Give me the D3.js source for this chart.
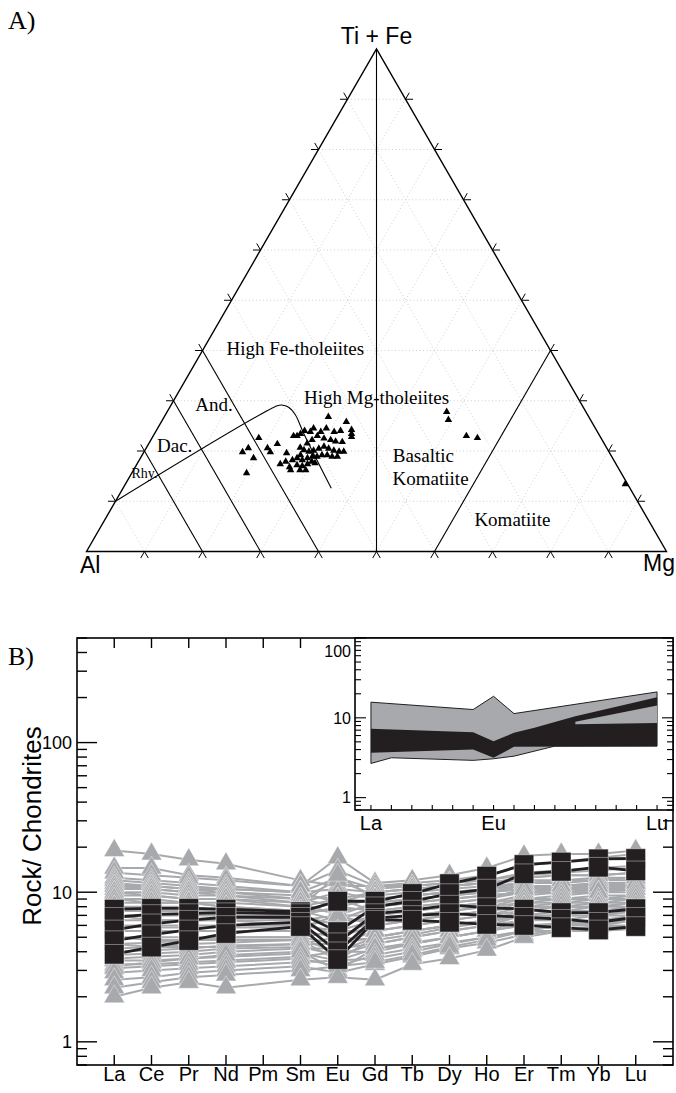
<!DOCTYPE html>
<html>
<head>
<meta charset="utf-8">
<script src="https://cdn.jsdelivr.net/npm/d3@7"></script>
<style>
  body { margin: 0; background: #fff; }
  svg { display: block; }
</style>
</head>
<body>
<script>
// ---------- data ----------
// Panel A: Jensen cation plot, samples as [Al, Ti+Fe, Mg] (cation %)
const cationSamples = [
  [59.0,22.6,18.4],[61.8,20.6,17.6],[63.2,19.8,17.0],[61.9,18.6,19.5],[64.6,15.6,19.8],
  [58.5,20.6,20.9],[56.4,21.4,22.2],[58.4,19.8,21.8],[55.7,19.6,24.7],[57.9,17.4,24.7],
  [56.6,16.8,26.6],[56.7,16.2,27.1],[44.9,26.8,28.3],[42.3,25.8,31.9],[42.2,24.2,33.6],
  [42.6,23.4,34.0],[42.9,22.8,34.3],
  [44.2,24.0,31.8],[45.4,23.8,30.8],[46.4,24.5,29.1],[47.7,23.8,28.5],[48.6,24.5,26.9],
  [49.5,23.8,26.7],[50.4,24.0,25.6],[51.4,23.4,25.2],[52.2,23.0,24.8],[52.8,23.0,24.2],
  [45.0,21.8,33.2],[46.1,21.9,32.0],[46.8,22.2,31.0],[47.8,22.5,29.7],[48.7,23.0,28.3],
  [50.0,22.2,27.8],[51.2,21.5,27.3],[52.8,20.7,26.5],[52.4,20.2,27.4],[51.7,19.9,28.4],
  [50.8,20.1,29.1],[49.7,20.5,29.8],[48.6,20.9,30.5],[48.0,20.5,31.5],[47.3,20.1,32.6],
  [46.5,19.9,33.6],[45.7,19.9,34.4],[53.5,19.2,27.3],[54.4,18.6,27.0],[53.7,18.2,28.1],
  [52.6,18.6,28.8],[51.6,18.9,29.5],[50.8,18.9,30.3],[49.8,19.2,31.0],[48.9,19.2,31.9],
  [48.2,18.9,32.9],[47.3,18.9,33.8],[55.4,18.2,26.4],[55.1,17.2,27.7],[54.3,17.0,28.7],
  [53.2,17.4,29.4],[52.2,17.9,29.9],[51.8,17.6,30.6],[55.1,16.2,28.7],[54.1,16.2,29.7],
  [56.7,17.9,25.4],
  [24.0,27.8,48.2],[24.5,26.2,49.3],[23.0,23.0,54.0],[21.3,22.6,56.1],[0.4,13.4,86.2]
];
// field boundaries, as [Al, Ti+Fe, Mg] end points
const fieldBoundaries = [
  [[0,100,0],[50,0,50]],
  [[80,20,0],[80,0,20]],
  [[70,30,0],[70,0,30]],
  [[60,40,0],[60,0,40]],
  [[0,40,60],[40,0,60]]
];
// calc-alkaline / tholeiite divide
const calcAlkalineDivide = [
  [90,10,0],[52.6,29.0,18.4],[51.8,29.15,19.05],[50.8,28.7,20.5],
  [50.4,27.2,22.4],[50.8,23.5,25.7],[51.5,12.6,35.9]
];
const fieldLabels = [
  { text: "High Fe-tholeiites", pos: [44.4, 39.2, 16.4], anchor: "middle", size: 19 },
  { text: "High Mg-tholeiites", pos: [35.3, 29.35, 35.35], anchor: "middle", size: 19 },
  { text: "And.",  pos: [64.0, 28.0, 8.0], anchor: "middle", size: 19 },
  { text: "Dac.",  pos: [74.9, 19.8, 5.3], anchor: "middle", size: 19 },
  { text: "Rhy.",  pos: [82.7, 14.6, 2.7], anchor: "middle", size: 14 },
  { text: "Basaltic",  pos: [38.3, 17.8, 43.9], anchor: "start", size: 19 },
  { text: "Komatiite", pos: [40.6, 13.25, 46.15], anchor: "start", size: 19 },
  { text: "Komatiite", pos: [30.6, 5.05, 64.35], anchor: "start", size: 19 }
];

// Panel B: chondrite-normalised REE
const elements = ["La","Ce","Pr","Nd","Pm","Sm","Eu","Gd","Tb","Dy","Ho","Er","Tm","Yb","Lu"];
const grayProfiles = [
  [19.0,18.0,16.5,15.5,null,12.0,11.0,11.0,11.5,12.0,13.0,15.0,16.0,17.0,18.0],
  [14.5,14.5,13.0,12.5,null,11.0,17.0,11.5,12.0,13.0,14.5,17.5,18.0,18.0,19.0],
  [13.5,13.0,12.5,12.0,null,11.0,14.0,11.0,11.0,11.5,12.0,13.5,14.0,14.5,15.0],
  [12.5,12.0,11.5,11.0,null,10.0,10.5,10.0,10.5,11.0,11.5,12.5,13.0,13.0,13.5],
  [12.0,11.5,11.0,10.5,null,10.0,12.5,10.5,11.0,11.5,12.0,13.0,13.5,14.0,14.5],
  [11.5,11.0,10.5,10.0,null,9.5,9.0,10.0,10.5,11.0,11.5,12.0,12.0,12.5,12.5],
  [11.0,11.0,10.5,10.5,null,10.0,8.5,10.0,10.5,11.0,11.5,12.5,13.0,13.0,13.5],
  [11.0,10.5,10.0,10.0,null,9.0,12.0,9.5,10.0,10.5,11.0,11.5,11.5,12.0,12.0],
  [10.5,10.5,10.0,9.5,null,9.0,8.0,9.0,9.5,10.0,10.5,11.0,11.0,11.5,11.5],
  [10.0,10.0,9.5,9.5,null,8.5,10.0,9.0,9.5,10.0,10.0,10.5,11.0,11.0,11.0],
  [10.0,9.5,9.0,9.0,null,8.0,13.0,9.0,9.5,10.0,10.5,11.5,12.0,12.0,12.5],
  [9.5,9.5,9.0,9.0,null,8.5,7.0,8.5,9.0,9.5,10.0,10.5,10.5,11.0,11.0],
  [9.0,9.0,8.5,8.5,null,8.0,9.0,8.5,9.0,9.5,10.0,11.0,11.0,11.5,11.5],
  [9.0,8.5,8.5,8.0,null,7.5,7.5,8.0,8.5,9.0,9.5,10.0,10.0,10.0,10.5],
  [8.5,8.5,8.5,8.0,null,7.5,6.5,8.0,8.5,9.0,9.5,10.0,10.0,10.5,10.5],
  [8.0,8.0,8.0,7.5,null,7.0,8.0,7.5,8.0,8.5,9.0,10.0,10.5,10.5,11.0],
  [8.0,7.5,7.5,7.5,null,7.0,9.0,7.5,8.0,8.5,9.0,10.5,11.0,11.0,11.5],
  [7.5,7.5,7.5,7.0,null,7.0,6.0,7.0,7.5,8.0,8.5,9.0,9.0,9.5,9.5],
  [7.0,7.0,7.0,7.0,null,6.5,7.0,7.0,7.5,8.0,8.5,9.5,10.0,10.0,10.5],
  [7.0,6.5,6.5,6.5,null,6.5,5.0,6.5,7.0,7.0,7.5,8.0,8.0,8.0,8.5],
  [6.5,6.5,6.5,6.5,null,6.0,5.5,6.5,7.0,7.5,8.0,8.5,8.5,9.0,9.0],
  [6.0,6.0,6.0,6.0,null,6.0,6.5,6.5,7.0,7.5,8.0,9.0,9.5,10.0,10.0],
  [6.0,5.8,5.8,5.8,null,5.8,7.0,6.0,6.5,7.0,7.5,8.5,9.0,9.0,9.5],
  [5.5,5.5,5.5,5.5,null,5.5,5.0,6.0,6.5,7.0,7.5,8.0,8.0,8.5,8.5],
  [5.0,5.0,5.0,5.0,null,5.0,4.5,5.5,6.0,6.5,7.0,8.0,8.5,8.5,9.0],
  [5.0,4.8,4.8,4.8,null,4.8,3.5,5.0,5.5,6.0,6.5,7.0,7.0,7.0,7.5],
  [4.5,4.6,4.8,5.0,null,5.0,5.5,5.5,6.0,6.5,7.0,7.5,7.5,8.0,8.0],
  [4.5,4.3,4.3,4.3,null,4.5,5.0,4.8,5.2,5.8,6.3,7.0,7.5,7.5,8.0],
  [4.2,4.3,4.5,4.6,null,4.8,4.0,5.0,5.5,6.0,6.5,7.0,7.0,7.5,7.5],
  [4.0,4.1,4.2,4.4,null,4.5,4.5,5.0,5.5,6.0,6.5,7.5,8.0,8.0,8.5],
  [3.8,3.9,4.0,4.2,null,4.3,3.8,4.5,5.0,5.5,6.0,6.5,6.5,7.0,7.0],
  [3.6,3.7,3.8,4.0,null,4.2,4.2,4.5,5.0,5.5,6.0,7.0,7.5,7.5,8.0],
  [3.5,3.5,3.6,3.7,null,3.9,3.5,4.2,4.5,5.0,5.5,6.0,6.0,6.5,6.5],
  [3.3,3.3,3.4,3.5,null,3.7,4.0,4.0,4.5,5.0,5.5,6.5,7.0,7.0,7.5],
  [3.2,3.4,3.6,3.8,null,4.0,3.0,4.2,4.6,5.0,5.5,6.0,6.2,6.5,7.0],
  [3.1,3.2,3.3,3.4,null,3.6,3.2,3.8,4.2,4.6,5.0,5.5,5.5,6.0,6.0],
  [2.9,3.0,3.1,3.2,null,3.4,3.5,3.6,4.0,4.5,5.0,5.5,6.0,6.0,6.5],
  [2.6,2.7,2.9,3.0,null,3.2,2.9,3.3,3.7,4.2,4.6,5.2,5.6,5.8,6.0],
  [2.3,2.5,2.7,2.8,null,3.0,3.2,3.4,3.8,4.3,4.8,5.5,6.0,6.2,6.5],
  [2.0,2.3,2.5,2.3,null,2.6,2.7,2.6,3.3,3.6,4.1,5.0,5.5,5.5,5.7]
];
const blackProfiles = [
  [7.7,7.8,7.8,7.7,null,7.4,8.7,8.7,9.8,11.4,12.8,15.3,15.9,16.7,16.8],
  [6.8,7.1,7.2,7.3,null,7.2,5.45,8.0,8.7,9.8,10.5,13.3,13.8,14.7,13.9],
  [5.6,6.15,6.5,6.8,null,6.8,4.6,7.2,7.6,8.2,7.9,7.7,7.3,7.3,7.75],
  [4.75,5.2,5.6,6.0,null,6.3,4.0,6.7,7.0,7.2,7.0,6.8,6.6,6.3,6.8],
  [3.85,4.3,4.75,5.3,null,5.9,3.55,6.5,6.5,6.3,6.1,6.0,5.8,5.6,5.9]
];
// inset: envelopes of the two groups
const insetGrayUpper = [["La",15.7],["Sm",12.7],["Eu",18.6],["Gd",11.3],["Lu",21.1]];
const insetGrayLower = [["La",2.68],["Ce",3.16],["Sm",2.93],["Eu",3.07],["Gd",3.31],["Dy",4.42],["Lu",4.42]];
const insetBlackUpper = [["La",7.3],["Sm",6.6],["Eu",5.1],["Gd",6.5],["Tb",7.5],["Ho",10.5],["Lu",18.1]];
const insetBlackLower = [["La",3.65],["Sm",4.0],["Eu",3.16],["Gd",4.34],["Lu",4.4]];
const insetGrayWedge = [["Ho",8.9],["Lu",14.3],["Lu",8.6],["Ho",8.3]];
const insetLabels = ["La","Eu","Lu"];

const mainTickLabels = [1, 10, 100];
const insetTickLabels = [1, 10, 100];

// ---------- styles ----------
const SANS = "'Liberation Sans', Arial, Helvetica, sans-serif";
const SERIF = "'Liberation Serif', 'Times New Roman', serif";
const GRAY = "#a7a9ac";
const BLACK = "#231f20";

const svg = d3.select("body").append("svg").attr("width", 676).attr("height", 1093);

// ================= Panel A =================
const tx = d3.scaleLinear().domain([0, 100]).range([86.5, 666.5]);
const ty = d3.scaleLinear().domain([0, 100]).range([551.5, 49]);
const project = ([al, ft, mg]) => [tx(mg + ft / 2), ty(ft)];
const line = d3.line();
const gA = svg.append("g");

// dotted 10% grid
const grid = [];
d3.range(10, 100, 10).forEach(k => {
  grid.push([[100 - k, k, 0], [0, k, 100 - k]]);
  grid.push([[k, 100 - k, 0], [k, 0, 100 - k]]);
  grid.push([[100 - k, 0, k], [0, 100 - k, k]]);
});
gA.selectAll("path.grid").data(grid).join("path")
  .attr("class", "grid")
  .attr("d", d => line(d.map(project)))
  .attr("fill", "none").attr("stroke", "#c4c4c4")
  .attr("stroke-width", 0.8).attr("stroke-dasharray", "1,2.5");

// outward ticks: short continuations of the grid lines past each side
const ext = 1.3;
const ticksA = [];
d3.range(10, 100, 10).forEach(k => {
  ticksA.push([[100 - k, 0, k], [100 - k + ext, -ext, k]]);
  ticksA.push([[100 - k, 0, k], [100 - k, -ext, k + ext]]);
  ticksA.push([[100 - k, k, 0], [100 - k + ext, k, -ext]]);
  ticksA.push([[100 - k, k, 0], [100 - k, k + ext, -ext]]);
  ticksA.push([[0, k, 100 - k], [-ext, k, 100 - k + ext]]);
  ticksA.push([[0, k, 100 - k], [-ext, k + ext, 100 - k]]);
});
gA.selectAll("path.tick").data(ticksA).join("path")
  .attr("class", "tick")
  .attr("d", d => line(d.map(project)))
  .attr("fill", "none").attr("stroke", "#000").attr("stroke-width", 1);

// field boundaries
gA.selectAll("path.field").data(fieldBoundaries).join("path")
  .attr("class", "field")
  .attr("d", d => line(d.map(project)))
  .attr("fill", "none").attr("stroke", "#000").attr("stroke-width", 1.1);

gA.append("path")
  .attr("d", d3.line().curve(d3.curveCatmullRom.alpha(0.5))(calcAlkalineDivide.map(project)))
  .attr("fill", "none").attr("stroke", "#000").attr("stroke-width", 1.1);

// outline
gA.append("path")
  .attr("d", line([[100, 0, 0], [0, 100, 0], [0, 0, 100]].map(project)) + "Z")
  .attr("fill", "none").attr("stroke", "#000").attr("stroke-width", 1.4);

// field names
gA.selectAll("text.field").data(fieldLabels).join("text")
  .attr("class", "field")
  .attr("x", d => project(d.pos)[0]).attr("y", d => project(d.pos)[1])
  .attr("text-anchor", d => d.anchor)
  .attr("font-family", SERIF).attr("font-size", d => d.size)
  .text(d => d.text);

// samples
gA.selectAll("path.sample").data(cationSamples).join("path")
  .attr("class", "sample")
  .attr("transform", d => `translate(${project(d)})`)
  .attr("d", d3.symbol(d3.symbolTriangle, 24))
  .attr("fill", "#000");

// apex labels
gA.append("text").attr("x", tx(50)).attr("y", 44).attr("text-anchor", "middle")
  .attr("font-family", SANS).attr("font-size", 23).text("Ti + Fe");
gA.append("text").attr("x", 80).attr("y", 573)
  .attr("font-family", SANS).attr("font-size", 23).text("Al");
gA.append("text").attr("x", 643).attr("y", 571)
  .attr("font-family", SANS).attr("font-size", 23).text("Mg");
gA.append("text").attr("x", 8).attr("y", 29)
  .attr("font-family", SERIF).attr("font-size", 26).text("A)");

// ================= Panel B =================
const box = { left: 77, right: 673, top: 638, bottom: 1065 };
const x = d3.scalePoint().domain(elements).range([box.left, box.right]).padding(1);
const y = d3.scaleLog().domain([0.7, 500]).range([box.bottom, box.top]);
const gB = svg.append("g");

svg.append("defs").append("clipPath").attr("id", "plotClip")
  .append("rect").attr("x", box.left).attr("y", box.top)
  .attr("width", box.right - box.left).attr("height", box.bottom - box.top);

gB.append("text").attr("x", 8).attr("y", 665)
  .attr("font-family", SERIF).attr("font-size", 26).text("B)");

const logTicks = (lo, hi) => {
  const out = [];
  [0.1, 1, 10, 100].forEach(dec => d3.range(1, 10).forEach(m => {
    const v = +(m * dec).toPrecision(3);
    if (v >= lo && v <= hi) out.push(v);
  }));
  return out;
};
const isMajor = v => Math.abs(Math.log10(v) - Math.round(Math.log10(v))) < 1e-9;

const plot = gB.append("g").attr("clip-path", "url(#plotClip)");
const profileLine = d3.line().x(d => x(d.el)).y(d => y(d.v));
const toPoints = row => row.map((v, i) => ({ el: elements[i], v })).filter(d => d.v != null);

const grayPts = grayProfiles.map(toPoints);
const blackPts = blackProfiles.map(toPoints);

plot.selectAll("path.gline").data(grayPts).join("path")
  .attr("class", "gline").attr("d", profileLine)
  .attr("fill", "none").attr("stroke", GRAY).attr("stroke-width", 2);
plot.selectAll("g.gmark").data(grayPts).join("g").attr("class", "gmark")
  .selectAll("path").data(d => d).join("path")
  .attr("transform", d => `translate(${x(d.el)},${y(d.v)})`)
  .attr("d", d3.symbol(d3.symbolTriangle, 185))
  .attr("fill", GRAY).attr("stroke", "#fff").attr("stroke-width", 0.4);

plot.selectAll("path.bline").data(blackPts).join("path")
  .attr("class", "bline").attr("d", profileLine)
  .attr("fill", "none").attr("stroke", BLACK).attr("stroke-width", 2.8);
plot.selectAll("g.bmark").data(blackPts).join("g").attr("class", "bmark")
  .selectAll("path").data(d => d).join("path")
  .attr("transform", d => `translate(${x(d.el)},${y(d.v)})`)
  .attr("d", d3.symbol(d3.symbolSquare, 380))
  .attr("fill", BLACK).attr("stroke", "#fff").attr("stroke-width", 0.4);

// frame and ticks
gB.append("rect").attr("x", box.left).attr("y", box.top)
  .attr("width", box.right - box.left).attr("height", box.bottom - box.top)
  .attr("fill", "none").attr("stroke", "#000").attr("stroke-width", 1.6);

const mainTicks = logTicks(0.7, 500);
gB.selectAll("line.yl").data(mainTicks).join("line").attr("class", "yl")
  .attr("x1", box.left).attr("x2", d => box.left + (isMajor(d) ? 20 : 10))
  .attr("y1", d => y(d)).attr("y2", d => y(d))
  .attr("stroke", "#000").attr("stroke-width", 1.4);

const inset = { left: 355, right: 673, top: 638, bottom: 810 };
gB.selectAll("line.yr").data(mainTicks.filter(v => y(v) > inset.bottom)).join("line").attr("class", "yr")
  .attr("x1", box.right).attr("x2", d => box.right - (isMajor(d) ? 20 : 10))
  .attr("y1", d => y(d)).attr("y2", d => y(d))
  .attr("stroke", "#000").attr("stroke-width", 1.4);

gB.selectAll("line.xb").data(elements).join("line").attr("class", "xb")
  .attr("x1", d => x(d)).attr("x2", d => x(d))
  .attr("y1", box.bottom).attr("y2", box.bottom - 10)
  .attr("stroke", "#000").attr("stroke-width", 1.4);
gB.selectAll("line.xt").data(elements.filter(e => x(e) < inset.left - 20)).join("line").attr("class", "xt")
  .attr("x1", d => x(d)).attr("x2", d => x(d))
  .attr("y1", box.top).attr("y2", box.top + 10)
  .attr("stroke", "#000").attr("stroke-width", 1.4);

gB.selectAll("text.yt").data(mainTickLabels).join("text").attr("class", "yt")
  .attr("x", 72).attr("y", d => y(d)).attr("dy", "0.36em")
  .attr("text-anchor", "end").attr("font-family", SANS).attr("font-size", 18)
  .text(d => d);

gB.selectAll("text.xt").data(elements).join("text").attr("class", "xt")
  .attr("x", d => x(d)).attr("y", 1081).attr("text-anchor", "middle")
  .attr("font-family", SANS).attr("font-size", 20)
  .text(d => d);

gB.append("text").attr("transform", "translate(41,826) rotate(-90)")
  .attr("text-anchor", "middle").attr("font-family", SANS).attr("font-size", 26)
  .text("Rock/ Chondrites");

// ---------- inset ----------
const xi = d3.scalePoint().domain(elements).range([inset.left, inset.right]).padding(0.78);
const yi = d3.scaleLog().domain([0.7, 100]).range([inset.bottom, inset.top]);
const gI = gB.append("g");
gI.append("rect").attr("x", inset.left).attr("y", inset.top)
  .attr("width", inset.right - inset.left).attr("height", inset.bottom - inset.top)
  .attr("fill", "#fff");

const band = (upper, lower) =>
  d3.line().x(d => xi(d[0])).y(d => yi(d[1]))(upper.concat(lower.slice().reverse())) + "Z";

gI.append("path").attr("d", band(insetGrayUpper, insetGrayLower))
  .attr("fill", GRAY).attr("stroke", BLACK).attr("stroke-width", 1);
gI.append("path").attr("d", band(insetBlackUpper, insetBlackLower))
  .attr("fill", BLACK);
gI.append("path")
  .attr("d", d3.line().x(d => xi(d[0])).y(d => yi(d[1]))(insetGrayWedge) + "Z")
  .attr("fill", GRAY);

gI.append("rect").attr("x", inset.left).attr("y", inset.top)
  .attr("width", inset.right - inset.left).attr("height", inset.bottom - inset.top)
  .attr("fill", "none").attr("stroke", "#000").attr("stroke-width", 1.6);

const insetTicks = logTicks(0.7, 100);
gI.selectAll("line.il").data(insetTicks).join("line").attr("class", "il")
  .attr("x1", inset.left).attr("x2", d => inset.left + (isMajor(d) ? 11 : 6))
  .attr("y1", d => yi(d)).attr("y2", d => yi(d))
  .attr("stroke", "#000").attr("stroke-width", 1.1);
gI.selectAll("line.ir").data(insetTicks).join("line").attr("class", "ir")
  .attr("x1", inset.right).attr("x2", d => inset.right - (isMajor(d) ? 11 : 6))
  .attr("y1", d => yi(d)).attr("y2", d => yi(d))
  .attr("stroke", "#000").attr("stroke-width", 1.1);
gI.selectAll("line.ib").data(elements).join("line").attr("class", "ib")
  .attr("x1", d => xi(d)).attr("x2", d => xi(d))
  .attr("y1", inset.bottom).attr("y2", inset.bottom - 5)
  .attr("stroke", "#000").attr("stroke-width", 1.1);

gI.selectAll("text.iy").data(insetTickLabels).join("text").attr("class", "iy")
  .attr("x", 351).attr("y", d => Math.max(yi(d), inset.top + 13)).attr("dy", "0.36em")
  .attr("text-anchor", "end").attr("font-family", SANS).attr("font-size", 16)
  .text(d => d);
gI.selectAll("text.ix").data(insetLabels).join("text").attr("class", "ix")
  .attr("x", d => xi(d)).attr("y", 830).attr("text-anchor", "middle")
  .attr("font-family", SANS).attr("font-size", 20)
  .text(d => d);
</script>
</body>
</html>
